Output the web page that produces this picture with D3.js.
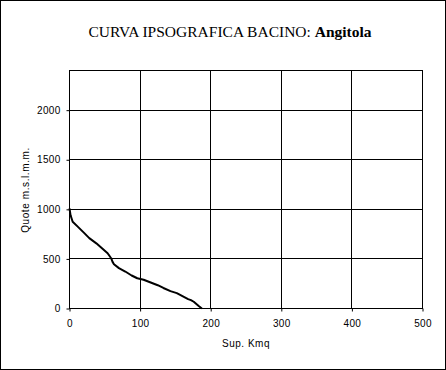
<!DOCTYPE html>
<html>
<head>
<meta charset="utf-8">
<script src="https://cdn.jsdelivr.net/npm/d3@7"></script>
<style>
  html, body { margin: 0; padding: 0; background: #fff; }
  svg { display: block; }
  .tick text { font-family: "Liberation Sans", Arial, sans-serif; font-size: 10px; fill: #000; letter-spacing: 0.3px; }
</style>
</head>
<body>
<div id="chart"></div>
<script>
// Curve points (area in km², height in m)
const area = [0, 1.5, 4.5, 12, 21, 28, 38, 46, 54, 59, 61, 63, 70, 79, 88, 96, 105, 115, 125, 133, 143, 152, 160, 168, 172, 176, 183, 187.5];
const quota = [1010, 940, 875, 823, 760, 710, 657, 607, 557, 507, 470, 447, 407, 373, 333, 305, 290, 262, 235, 207, 175, 155, 125, 95, 85, 68, 25, 0];
const xTicks = [0, 100, 200, 300, 400, 500];
const yTicks = [0, 500, 1000, 1500, 2000];

const width = 446, height = 370;
const plot = { left: 69.5, right: 422.5, top: 70.5, bottom: 308.5 };

const svg = d3.select('#chart').append('svg')
    .attr('width', width)
    .attr('height', height);

// outer border
svg.append('rect')
    .attr('x', 0.5).attr('y', 0.5)
    .attr('width', width - 1).attr('height', height - 1)
    .attr('fill', 'none')
    .attr('stroke', '#000');

const x = d3.scaleLinear().domain([0, 500]).range([plot.left, plot.right]);
const y = d3.scaleLinear().domain([0, 2400]).range([plot.bottom, plot.top]);

// gridlines
svg.append('g').selectAll('line.v')
    .data(xTicks)
    .join('line')
    .attr('x1', d => Math.round(x(d) - 0.5) + 0.5)
    .attr('x2', d => Math.round(x(d) - 0.5) + 0.5)
    .attr('y1', plot.top).attr('y2', plot.bottom)
    .attr('stroke', '#000');

svg.append('g').selectAll('line.h')
    .data(yTicks)
    .join('line')
    .attr('y1', d => Math.round(y(d) - 0.5) + 0.5)
    .attr('y2', d => Math.round(y(d) - 0.5) + 0.5)
    .attr('x1', plot.left).attr('x2', plot.right)
    .attr('stroke', '#000');

// plot frame
svg.append('rect')
    .attr('x', plot.left).attr('y', plot.top)
    .attr('width', plot.right - plot.left)
    .attr('height', plot.bottom - plot.top)
    .attr('fill', 'none')
    .attr('stroke', '#000');

// axes
const fmt = d3.format('d');
const xAxis = d3.axisBottom(x).tickValues(xTicks).tickFormat(fmt).tickSize(3).tickSizeOuter(0).tickPadding(8);
svg.append('g')
    .attr('transform', `translate(0,${plot.bottom})`)
    .call(xAxis)
    .call(g => g.select('.domain').remove())
    .call(g => g.selectAll('.tick line').attr('stroke', '#000'));

const yAxis = d3.axisLeft(y).tickValues(yTicks).tickFormat(fmt).tickSize(3).tickSizeOuter(0).tickPadding(6);
svg.append('g')
    .attr('transform', `translate(${plot.left},0)`)
    .call(yAxis)
    .call(g => g.select('.domain').remove())
    .call(g => g.selectAll('.tick line').attr('stroke', '#000'));

// curve
const pts = area.map((a, i) => [a, quota[i]]);
svg.append('path')
    .datum(pts)
    .attr('fill', 'none')
    .attr('stroke', '#000')
    .attr('stroke-width', 2)
    .attr('stroke-linejoin', 'round')
    .attr('d', d3.line().x(d => x(d[0])).y(d => y(d[1])));

// title
const title = svg.append('text')
    .attr('x', 230)
    .attr('y', 37)
    .attr('text-anchor', 'middle')
    .attr('font-family', '"Liberation Serif", "Times New Roman", serif')
    .attr('font-size', 15.5)
    .attr('fill', '#000');
title.append('tspan').text('CURVA IPSOGRAFICA BACINO: ');
title.append('tspan').attr('font-weight', 'bold').text('Angitola');

// axis titles
svg.append('text')
    .attr('x', 246)
    .attr('y', 347)
    .attr('text-anchor', 'middle')
    .attr('font-family', '"Liberation Sans", Arial, sans-serif')
    .attr('font-size', 10)
    .attr('letter-spacing', 0.5)
    .text('Sup. Kmq');

svg.append('text')
    .attr('transform', 'translate(29,190) rotate(-90)')
    .attr('text-anchor', 'middle')
    .attr('font-family', '"Liberation Sans", Arial, sans-serif')
    .attr('font-size', 10)
    .attr('letter-spacing', 0.6)
    .text('Quote m.s.l.m.m.');
</script>
</body>
</html>
